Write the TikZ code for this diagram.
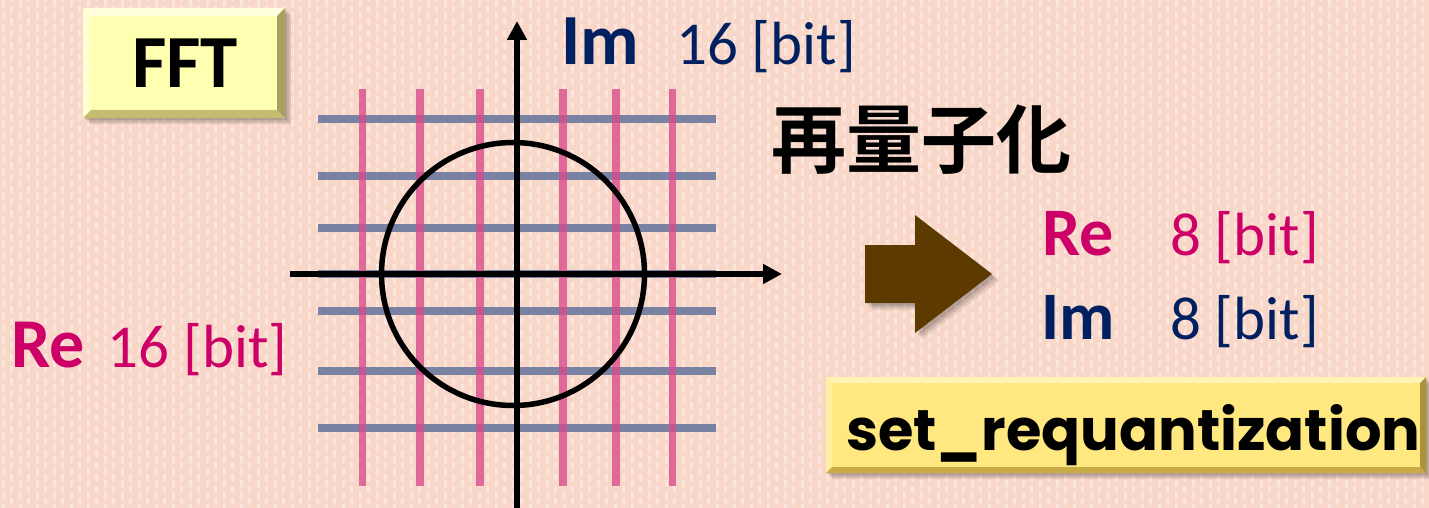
\documentclass[tikz,border=0pt]{standalone}
\usepackage{fontspec}
\setmainfont{Carlito}
\newfontfamily\cjk{Noto Sans CJK JP}[BoldFont={Noto Sans CJK JP Bold}]
\newfontfamily\popp{Poppins}[BoldFont={Poppins Bold}]
\usetikzlibrary{arrows.meta}
\definecolor{bgpink}{RGB}{248,215,201}
\definecolor{magtext}{RGB}{204,0,102}
\definecolor{navytext}{RGB}{0,32,96}
\definecolor{gridpink}{RGB}{217,74,140}
\definecolor{gridblue}{RGB}{122,130,163}
\definecolor{arrowbrown}{RGB}{92,58,0}
\definecolor{fftface}{RGB}{255,255,178}
\definecolor{fftlight}{RGB}{255,255,222}
\definecolor{fftdark}{RGB}{196,188,112}
\definecolor{setface}{RGB}{255,232,128}
\definecolor{setlight}{RGB}{255,244,180}
\definecolor{setdark}{RGB}{200,170,70}
\tikzset{
  streak/.style={white, opacity=0.38, line width=3pt, dash pattern=on 7pt off 5pt},
  vgrid/.style={gridpink, opacity=0.78, line width=7.5pt},
  hgrid/.style={gridblue, line width=8pt},
  axis/.style={black, line width=5.5pt, -{Triangle[length=19pt,width=19pt]}},
  lbl/.style={inner sep=0pt, anchor=base west},
  bigbold/.style={font=\fontsize{70}{70}\selectfont\bfseries},
  regtxt/.style={font=\fontsize{61}{61}\selectfont},
  shadowc/.style={fill=black, opacity=0.10, draw=none},
}
\begin{document}
\begin{tikzpicture}[x=1pt,y=-1pt]
\useasboundingbox (0,0) rectangle (1429,508);
% background
\fill[bgpink] (0,0) rectangle (1429,508);
\foreach \i in {0,...,168}{
  \pgfmathsetmacro\xx{\i*8.5+3}
  \pgfmathsetmacro\ph{mod(\i,2)*6}
  \draw[streak, dash phase=\ph pt] (\xx,0) -- (\xx,508);
}
% FFT box
\foreach \d in {2,4,6}{
  \fill[shadowc] (83+\d,8+\d) rectangle (285+\d,118+\d);
}
\fill[fftface] (83,8) rectangle (285,118);
\fill[fftlight] (83,8) -- (285,8) -- (277,16) -- (91,16) -- cycle;
\fill[fftlight!70!fftface] (83,8) -- (91,16) -- (91,110) -- (83,118) -- cycle;
\fill[fftdark] (83,118) -- (285,118) -- (277,110) -- (91,110) -- cycle;
\fill[fftdark!85!black] (285,8) -- (285,118) -- (277,110) -- (277,16) -- cycle;
\node[inner sep=0pt, anchor=base, font=\fontsize{75}{75}\selectfont\bfseries] (fft) at (185,88) {FFT};
% grid: blue horizontals
\foreach \yy in {119,176,228,274,311,371,428}{
  \draw[hgrid] (318,\yy) -- (716,\yy);
}
% pink verticals
\foreach \xx in {362.5,420,480,563,616,672.5}{
  \draw[vgrid] (\xx,89) -- (\xx,486);
}
% circle
\coordinate (o) at (513,274);
\draw[black, line width=5.5pt] (o) circle[radius=131.5];
% axes
\coordinate (xs) at (290,274);
\coordinate (xe) at (782,274);
\coordinate (ys) at (517,512);
\coordinate (ye) at (517,21);
\draw[axis] (xs) -- (xe);
\draw[axis] (ys) -- (ye);
% labels near axes
\node[lbl, text=navytext, font=\fontsize{72}{72}\selectfont\bfseries] (imtop) at (561,65) {Im};
\node[lbl, text=navytext, regtxt] (imtopbits) at (676,65) {16 [bit]};
\node[lbl, text=magtext, bigbold] (releft) at (11,367) {Re};
\node[lbl, text=magtext, regtxt] (releftbits) at (107.5,367) {16 [bit]};
% title
\node[inner sep=0pt, anchor=base, font=\cjk\fontsize{75}{75}\selectfont\bfseries] (req) at (921,167) {再量子化};
% brown arrow with shadow
\foreach \d/\op in {3/0.12,5/0.10,7/0.07}{
  \fill[black, opacity=\op] (865+\d,245+\d) -- (915+\d,245+\d) -- (915+\d,215+\d) -- (992+\d,274+\d) -- (915+\d,333+\d) -- (915+\d,303+\d) -- (865+\d,303+\d) -- cycle;
}
\fill[arrowbrown] (865,245) -- (915,245) -- (915,215) -- (992,274) -- (915,333) -- (915,303) -- (865,303) -- cycle;
% right labels
\node[lbl, text=magtext, font=\fontsize{68}{68}\selectfont\bfseries] (reright) at (1042,255) {Re};
\node[lbl, text=magtext, regtxt] (rerightbits) at (1170,255) {8 [bit]};
\node[lbl, text=navytext, font=\fontsize{68}{68}\selectfont\bfseries] (imright) at (1041,339) {Im};
\node[lbl, text=navytext, regtxt] (imrightbits) at (1170,339) {8 [bit]};
% set_requantization box
\foreach \d in {2,4,6}{
  \fill[shadowc] (826+\d,377+\d) rectangle (1426+\d,473+\d);
}
\fill[setface] (826,377) rectangle (1426,473);
\fill[setlight] (826,377) -- (1426,377) -- (1420,383) -- (832,383) -- cycle;
\fill[setlight!60!setface] (826,377) -- (832,383) -- (832,467) -- (826,473) -- cycle;
\fill[setdark] (826,473) -- (1426,473) -- (1420,467) -- (832,467) -- cycle;
\fill[setdark!85!black] (1426,377) -- (1426,473) -- (1420,467) -- (1420,383) -- cycle;
\node[inner sep=0pt, anchor=base west] (setreq) at (846,450) {\resizebox{574pt}{!}{\popp\bfseries set\_requantization}};
\end{tikzpicture}
\end{document}
